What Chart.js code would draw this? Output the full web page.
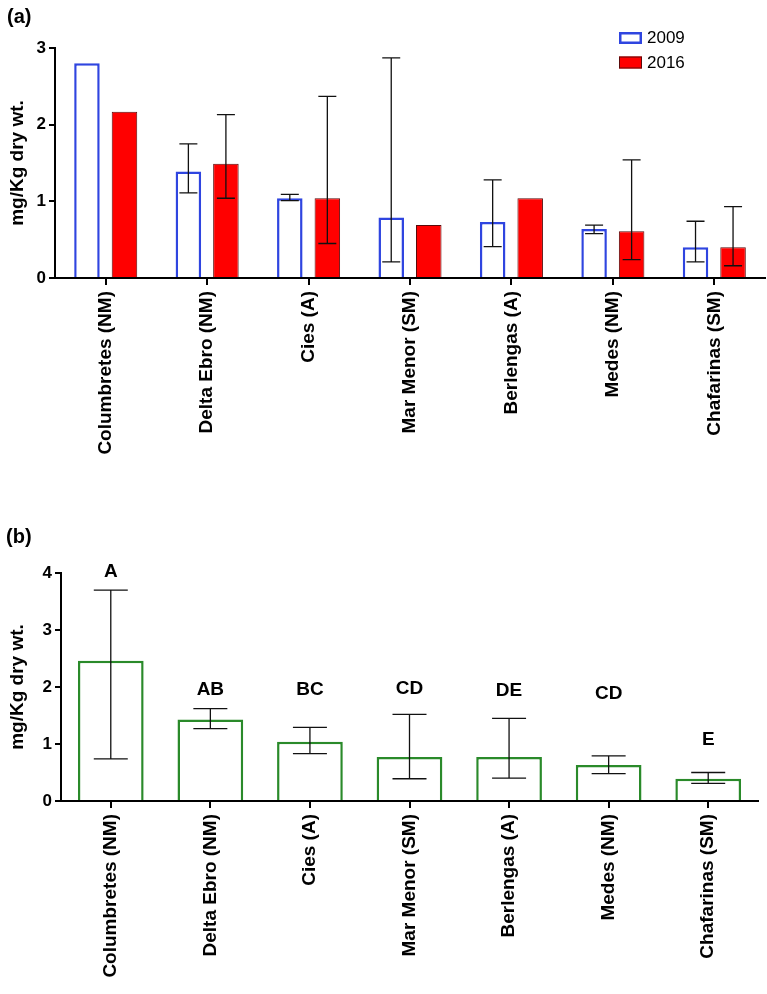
<!DOCTYPE html>
<html>
<head>
<meta charset="utf-8">
<script src="https://cdn.jsdelivr.net/npm/chart.js@4.4.0/dist/chart.umd.min.js"></script>
<style>
    body { margin: 0; background: #fff; }
    #wrap { position: relative; width: 767px; height: 994px; background: #fff; }
    canvas { position: absolute; left: 0; }
    .panel { position: absolute; font: bold 20px "Liberation Sans", Arial, sans-serif; color: #000; }
</style>
</head>
<body>
<div id="wrap">
    <canvas id="chartA" width="767" height="470" style="top:0"></canvas>
    <canvas id="chartB" width="767" height="524" style="top:470px"></canvas>
    <div class="panel" style="left:7px;top:5px">(a)</div>
    <div class="panel" style="left:6px;top:525px">(b)</div>
</div>
<script>
// sites (same order in both panels)
const sites = ['Columbretes (NM)', 'Delta Ebro (NM)', 'Cies (A)', 'Mar Menor (SM)', 'Berlengas (A)', 'Medes (NM)', 'Chafarinas (SM)'];

// panel (a): 2009 vs 2016
const mean2009 = [2.80, 1.39, 1.04, 0.79, 0.73, 0.64, 0.40];
const low2009  = [null, 1.11, 1.01, 0.21, 0.41, 0.58, 0.21];
const high2009 = [null, 1.75, 1.09, 2.87, 1.28, 0.69, 0.74];
const mean2016 = [2.17, 1.49, 1.04, 0.69, 1.04, 0.61, 0.40];
const low2016  = [null, 1.04, 0.45, null, null, 0.24, 0.16];
const high2016 = [null, 2.13, 2.37, null, null, 1.54, 0.93];
const ticksA = [0, 1, 2, 3];

// panel (b): pooled
const meanAll = [2.46, 1.43, 1.04, 0.77, 0.77, 0.63, 0.39];
const lowAll  = [0.74, 1.27, 0.83, 0.39, 0.40, 0.48, 0.31];
const highAll = [3.70, 1.62, 1.29, 1.52, 1.45, 0.79, 0.50];
const letters = ['A', 'AB', 'BC', 'CD', 'DE', 'CD', 'E'];
const letterLevel = [4.02, 1.95, 1.95, 1.97, 1.93, 1.89, 1.08];
const ticksB = [0, 1, 2, 3, 4];

const FONT = '"Liberation Sans", Arial, sans-serif';

// error bars drawn from dataset options errLow / errHigh
const errorBars = {
    id: 'errorBars',
    afterDatasetsDraw(chart) {
        const ctx = chart.ctx;
        const y = chart.scales.y;
        chart.data.datasets.forEach((ds, i) => {
            if (!ds.errLow) return;
            const meta = chart.getDatasetMeta(i);
            const cap = ds.capWidth || 18;
            meta.data.forEach((bar, j) => {
                const lo = ds.errLow[j], hi = ds.errHigh[j];
                if (lo == null || hi == null) return;
                const x = bar.x;
                const yl = y.getPixelForValue(lo), yh = y.getPixelForValue(hi);
                ctx.save();
                ctx.strokeStyle = '#111';
                ctx.lineWidth = 1.3;
                ctx.beginPath();
                ctx.moveTo(x, yl); ctx.lineTo(x, yh);
                ctx.moveTo(x - cap / 2, yl); ctx.lineTo(x + cap / 2, yl);
                ctx.moveTo(x - cap / 2, yh); ctx.lineTo(x + cap / 2, yh);
                ctx.stroke();
                ctx.restore();
            });
        });
    }
};

// legend for panel (a)
const boxLegend = {
    id: 'boxLegend',
    afterDraw(chart) {
        const ctx = chart.ctx;
        const items = chart.data.datasets;
        ctx.save();
        ctx.font = '17px ' + FONT;
        ctx.textBaseline = 'middle';
        items.forEach((ds, i) => {
            const top = 32 + i * 24.5;
            ctx.fillStyle = ds.backgroundColor;
            ctx.fillRect(619, top, 23, 12);
            ctx.strokeStyle = ds.borderColor;
            ctx.lineWidth = ds.borderWidth;
            ctx.strokeRect(619 + ds.borderWidth / 2, top + ds.borderWidth / 2, 23 - ds.borderWidth, 12 - ds.borderWidth);
            ctx.fillStyle = '#000';
            ctx.fillText(ds.label, 647, top + 6.5);
        });
        ctx.restore();
    }
};

// significance letters for panel (b)
const sigLetters = {
    id: 'sigLetters',
    afterDraw(chart) {
        const ctx = chart.ctx;
        const meta = chart.getDatasetMeta(0);
        ctx.save();
        ctx.font = 'bold 19px ' + FONT;
        ctx.fillStyle = '#000';
        ctx.textAlign = 'center';
        ctx.textBaseline = 'middle';
        meta.data.forEach((bar, j) => {
            ctx.fillText(letters[j], bar.x, chart.scales.y.getPixelForValue(letterLevel[j]));
        });
        ctx.restore();
    }
};

function axes(maxVal, yWidth, xHeight) {
    return {
        x: {
            offset: true,
            grid: { display: true, drawOnChartArea: false, drawTicks: true, tickLength: 7, color: '#000', lineWidth: 2, offset: false },
            border: { display: true, color: '#000', width: 2 },
            ticks: { autoSkip: false, minRotation: 90, maxRotation: 90, padding: 6, color: '#000', font: { family: FONT, size: 19, weight: 'bold' } },
            afterFit: s => { s.height = xHeight; }
        },
        y: {
            min: 0,
            max: maxVal,
            grid: { display: true, drawOnChartArea: false, drawTicks: true, tickLength: 6, color: '#000', lineWidth: 2 },
            border: { display: true, color: '#000', width: 2 },
            ticks: { stepSize: 1, padding: 3, color: '#000', font: { family: FONT, size: 17, weight: 'bold' } },
            title: { display: true, text: 'mg/Kg dry wt.', color: '#000', padding: { top: 6, bottom: 0 }, font: { family: FONT, size: 19, weight: 'bold' } },
            afterFit: s => { s.width = yWidth; }
        }
    };
}

new Chart(document.getElementById('chartA').getContext('2d'), {
    type: 'bar',
    data: {
        labels: sites,
        datasets: [{
            label: '2009',
            data: mean2009,
            errLow: low2009,
            errHigh: high2009,
            capWidth: 18,
            backgroundColor: '#ffffff',
            borderColor: '#2f45e0',
            borderWidth: 2.5,
            categoryPercentage: 0.74,
            barPercentage: 0.68
        }, {
            label: '2016',
            data: mean2016,
            errLow: low2016,
            errHigh: high2016,
            capWidth: 18,
            backgroundColor: '#ff0000',
            borderColor: '#5a0a0a',
            borderWidth: 1,
            categoryPercentage: 0.74,
            barPercentage: 0.68
        }]
    },
    options: {
        responsive: false,
        animation: false,
        layout: { padding: { top: 48, left: 0, right: 2, bottom: 0 } },
        scales: axes(ticksA[ticksA.length - 1], 55, 192),
        plugins: { legend: { display: false }, tooltip: { enabled: false } }
    },
    plugins: [errorBars, boxLegend]
});

new Chart(document.getElementById('chartB').getContext('2d'), {
    type: 'bar',
    data: {
        labels: sites,
        datasets: [{
            label: 'all',
            data: meanAll,
            errLow: lowAll,
            errHigh: highAll,
            capWidth: 34,
            backgroundColor: '#ffffff',
            borderColor: '#2a8a2a',
            borderWidth: 2.5,
            categoryPercentage: 1,
            barPercentage: 0.66
        }]
    },
    options: {
        responsive: false,
        animation: false,
        layout: { padding: { top: 103, left: 0, right: 9, bottom: 0 } },
        scales: axes(ticksB[ticksB.length - 1], 61, 193),
        plugins: { legend: { display: false }, tooltip: { enabled: false } }
    },
    plugins: [errorBars, sigLetters]
});
</script>
</body>
</html>
